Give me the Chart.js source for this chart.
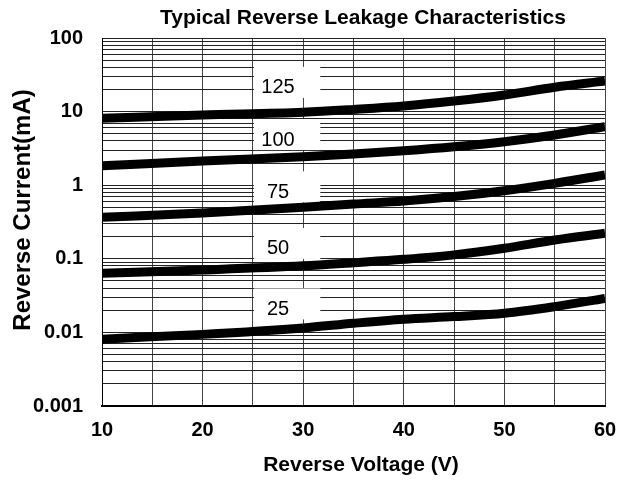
<!DOCTYPE html>
<html><head><meta charset="utf-8">
<script src="https://cdn.jsdelivr.net/npm/chart.js@4/dist/chart.umd.min.js"></script>
<style>html,body{margin:0;padding:0;background:#fff}#wrap{width:625px;height:480px;position:relative}</style>
</head><body><div id="wrap"><canvas id="c" width="625" height="480"></canvas></div>
<script>
const chartTitle = 'Typical Reverse Leakage Characteristics';
const xAxisTitle = 'Reverse Voltage (V)';
const yAxisTitle = 'Reverse Current(mA)';
const voltages = [10, 20, 30, 35, 40, 45, 50, 55, 60];
const seriesNames = ['125', '100', '75', '50', '25'];
const current125 = [8.1, 9.0, 9.8, 10.7, 11.9, 13.9, 16.8, 21.4, 26];
const current100 = [1.84, 2.13, 2.44, 2.65, 2.94, 3.33, 3.9, 4.81, 6.24];
const current75 = [0.366, 0.42, 0.50, 0.555, 0.61, 0.70, 0.84, 1.06, 1.38];
const current50 = [0.0635, 0.0705, 0.0802, 0.0885, 0.0984, 0.113, 0.139, 0.18, 0.222];
const current25 = [0.0081, 0.0094, 0.0115, 0.0133, 0.0151, 0.0164, 0.0182, 0.0224, 0.029];
const xTickValues = [10, 20, 30, 40, 50, 60];
const yTickValues = [0.001, 0.01, 0.1, 1, 10, 100];
const yTickLabels = ['0.001', '0.01', '0.1', '1', '10', '100'];

const FONT = '"Liberation Sans", Arial, sans-serif';
const allSeries = [current125, current100, current75, current50, current25];

const datasets = allSeries.map((vals, i) => ({
  label: seriesNames[i],
  data: voltages.map((v, j) => ({x: v, y: vals[j]})),
  borderColor: '#000',
  borderWidth: 9,
  pointRadius: 0,
  fill: false,
  cubicInterpolationMode: 'monotone',
  borderCapStyle: 'butt'
}));

const labelPlugin = {
  id: 'curveLabels',
  beforeDatasetsDraw(chart, args, opts) {
    const ctx = chart.ctx;
    const xs = chart.scales.x, ys = chart.scales.y;
    ctx.save();
    opts.anchors.forEach((a, i) => {
      const cy = ys.getPixelForValue(a);
      const left = xs.getPixelForValue(opts.boxFrom) + 1;
      const right = xs.getPixelForValue(opts.boxTo);
      ctx.fillStyle = '#fff';
      ctx.fillRect(left, cy - 21, right - left, 31);
      ctx.fillStyle = '#000';
      ctx.font = '20px ' + FONT;
      ctx.textAlign = 'center';
      ctx.textBaseline = 'middle';
      ctx.fillText(seriesNames[i], xs.getPixelForValue(opts.textAt), cy);
    });
    ctx.restore();
  },
  afterDraw(chart) {
    const ctx = chart.ctx;
    ctx.save();
    ctx.fillStyle = '#000';
    ctx.textAlign = 'center';
    ctx.textBaseline = 'middle';
    ctx.font = 'bold 21px ' + FONT;
    ctx.fillText(chartTitle, 363, 18);
    ctx.fillText(xAxisTitle, 361, 465);
    ctx.translate(23, 210);
    ctx.rotate(-Math.PI / 2);
    ctx.font = 'bold 24px ' + FONT;
    ctx.fillText(yAxisTitle, 0, 0);
    ctx.restore();
  }
};

new Chart(document.getElementById('c'), {
  type: 'line',
  data: {datasets},
  plugins: [labelPlugin],
  options: {
    responsive: false,
    animation: false,
    events: [],
    layout: {padding: {top: 38, right: 20, left: 0, bottom: 0}},
    plugins: {
      legend: {display: false},
      title: {display: false},
      tooltip: {enabled: false},
      curveLabels: {anchors: [21, 4.1, 0.8, 0.136, 0.0205], boxFrom: 25, boxTo: 31.7, textAt: 27.5}
    },
    scales: {
      x: {
        type: 'linear', min: 10, max: 60,
        afterFit(s) { s.height = 74; s.paddingLeft = 0; s.paddingRight = 0; },
        ticks: {
          stepSize: 5, autoSkip: false, maxRotation: 0, padding: 12,
          color: '#000', font: {family: FONT, size: 20, weight: 'bold'},
          callback: v => xTickValues.includes(v) ? String(v) : ''
        },
        grid: {color: '#444', lineWidth: 1, drawTicks: false},
        border: {color: '#000', width: 2}
      },
      y: {
        type: 'logarithmic', min: 0.001, max: 100,
        afterFit(s) { s.width = 102; s.paddingTop = 0; s.paddingBottom = 0; },
        afterBuildTicks(s) {
          const t = [];
          yTickValues.forEach((d, i) => {
            if (i < yTickValues.length - 1) { for (let m = 1; m < 10; m++) t.push({value: d * m}); }
            else t.push({value: d});
          });
          s.ticks = t;
        },
        ticks: {
          autoSkip: false, padding: 19,
          color: '#000', font: {family: FONT, size: 20, weight: 'bold'},
          callback: v => {
            const i = yTickValues.findIndex(d => Math.abs(d - v) / d < 1e-6);
            return i >= 0 ? yTickLabels[i] : '';
          }
        },
        grid: {color: '#222', lineWidth: 1, drawTicks: false},
        border: {color: '#000', width: 1}
      }
    }
  }
});
</script></body></html>
